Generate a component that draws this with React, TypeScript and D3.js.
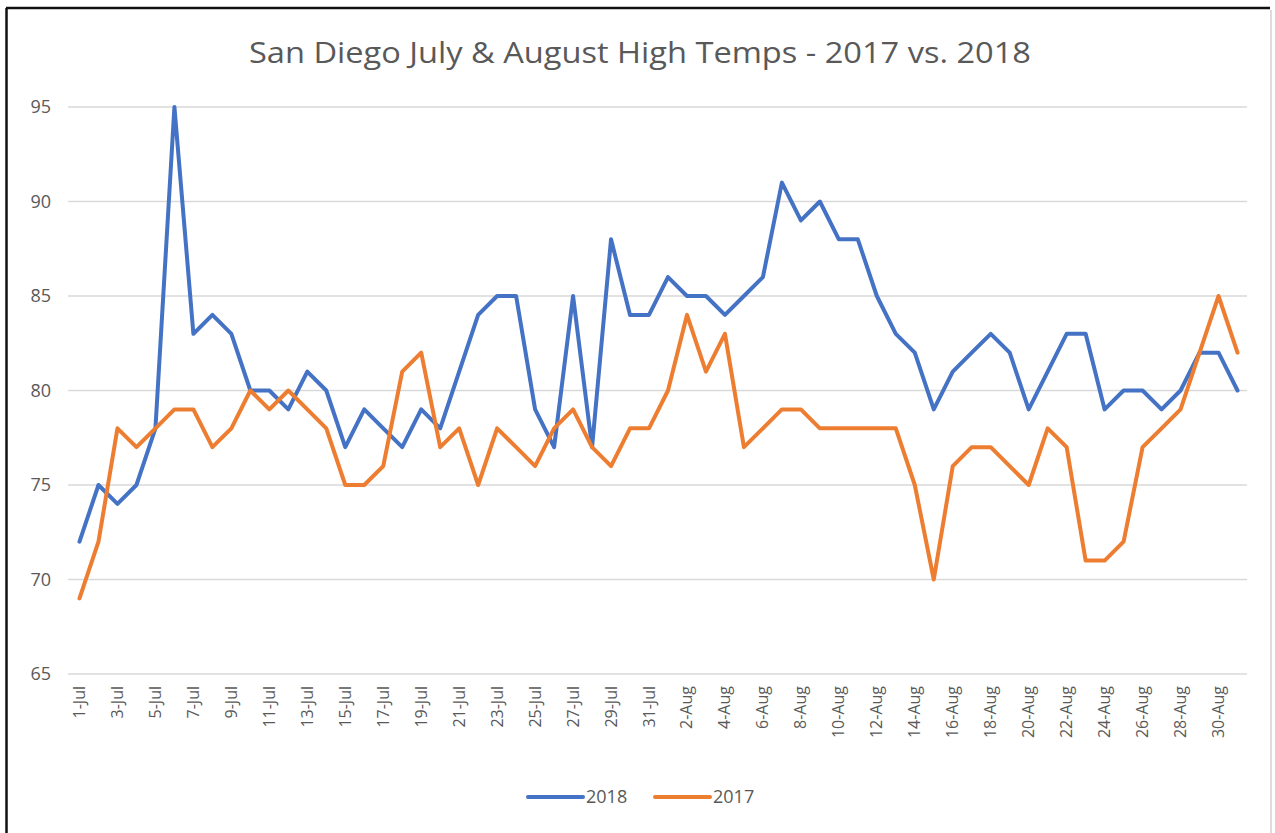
import React, { useEffect, useRef } from "react";
import * as d3 from "d3";

const julyDays = d3.range(1, 32).map((d) => `${d}-Jul`);
const augustDays = d3.range(1, 32).map((d) => `${d}-Aug`);
const days = [...julyDays, ...augustDays];

const temps2018 = [
  72, 75, 74, 75, 78, 95, 83, 84, 83, 80, 80, 79, 81, 80, 77, 79, 78, 77, 79, 78,
  81, 84, 85, 85, 79, 77, 85, 77, 88, 84, 84,
  86, 85, 85, 84, 85, 86, 91, 89, 90, 88, 88, 85, 83, 82, 79, 81, 82, 83, 82, 79,
  81, 83, 83, 79, 80, 80, 79, 80, 82, 82, 80,
];

const temps2017 = [
  69, 72, 78, 77, 78, 79, 79, 77, 78, 80, 79, 80, 79, 78, 75, 75, 76, 81, 82, 77,
  78, 75, 78, 77, 76, 78, 79, 77, 76, 78, 78,
  80, 84, 81, 83, 77, 78, 79, 79, 78, 78, 78, 78, 78, 75, 70, 76, 77, 77, 76, 75,
  78, 77, 71, 71, 72, 77, 78, 79, 82, 85, 82,
];

const yTicks = [65, 70, 75, 80, 85, 90, 95];

const seriesList = [
  { name: "2018", values: temps2018, color: "#4472C4" },
  { name: "2017", values: temps2017, color: "#ED7D31" },
];

const title = "San Diego July & August High Temps - 2017 vs. 2018";

export default function App() {
  const ref = useRef<SVGSVGElement>(null);

  useEffect(() => {
    const svg = d3.select(ref.current);
    svg.selectAll("*").remove();
    const width = 1275;
    const height = 833;
    const left = 70;
    const right = 1247;
    const top = 107;
    const bottom = 674;
    const textColor = "#595959";
    const font = "'Open Sans', 'Liberation Sans', sans-serif";

    svg.append("rect").attr("width", width).attr("height", height).attr("fill", "#fff");

    // outer frame
    svg.append("line").attr("x1", 6).attr("x2", 1270).attr("y1", 8).attr("y2", 8)
      .attr("stroke", "#111").attr("stroke-width", 2.5);
    svg.append("line").attr("x1", 6.5).attr("x2", 6.5).attr("y1", 8).attr("y2", height)
      .attr("stroke", "#111").attr("stroke-width", 2.5);
    svg.append("line").attr("x1", 1271).attr("x2", 1271).attr("y1", 10).attr("y2", height)
      .attr("stroke", "#d0d0d0").attr("stroke-width", 1.5);

    const x = d3.scalePoint<string>().domain(days).range([left, right]).padding(0.5);
    const y = d3.scaleLinear().domain([65, 95]).range([bottom, top]);

    // title
    svg.append("text")
      .attr("x", 640)
      .attr("y", 63)
      .attr("text-anchor", "middle")
      .attr("font-family", font)
      .attr("font-size", 30)
      .attr("fill", textColor)
      .attr("textLength", 782)
      .attr("lengthAdjust", "spacingAndGlyphs")
      .text(title);

    // gridlines
    svg.append("g")
      .selectAll("line")
      .data(yTicks)
      .join("line")
      .attr("x1", left - 2)
      .attr("x2", right)
      .attr("y1", (d) => y(d))
      .attr("y2", (d) => y(d))
      .attr("stroke", "#d9d9d9")
      .attr("stroke-width", 1.5);

    // y labels
    svg.append("g")
      .selectAll("text")
      .data(yTicks)
      .join("text")
      .attr("x", 51)
      .attr("y", (d) => y(d))
      .attr("dy", "0.35em")
      .attr("text-anchor", "end")
      .attr("font-family", font)
      .attr("font-size", 18)
      .attr("fill", textColor)
      .text((d) => d);

    // x labels, every other day
    const labelled = days.filter((_, i) => i % 2 === 0);
    svg.append("g")
      .selectAll("text")
      .data(labelled)
      .join("text")
      .attr("transform", (d) => `translate(${(x(d) as number) + 5.5},686) rotate(-90)`)
      .attr("text-anchor", "end")
      .attr("font-family", font)
      .attr("font-size", 16)
      .attr("fill", textColor)
      .text((d) => d);

    const line = d3
      .line<number>()
      .x((_, i) => x(days[i]) as number)
      .y((d) => y(d));

    for (const s of seriesList) {
      svg.append("path")
        .datum(s.values)
        .attr("d", line)
        .attr("fill", "none")
        .attr("stroke", s.color)
        .attr("stroke-width", 4)
        .attr("stroke-linejoin", "round")
        .attr("stroke-linecap", "round");
    }

    // legend
    const legendX = [528, 655];
    seriesList.forEach((s, i) => {
      const g = svg.append("g").attr("transform", `translate(${legendX[i]},797)`);
      g.append("line")
        .attr("x1", 0)
        .attr("x2", 55)
        .attr("stroke", s.color)
        .attr("stroke-width", 4)
        .attr("stroke-linecap", "round");
      g.append("text")
        .attr("x", 58)
        .attr("dy", "0.35em")
        .attr("font-family", font)
        .attr("font-size", 18)
        .attr("fill", textColor)
        .text(s.name);
    });
  }, []);

  return (
    <div style={{ position: "absolute", left: 0, top: 0 }}>
      <svg ref={ref} width={1275} height={833} style={{ display: "block" }}></svg>
    </div>
  );
}
